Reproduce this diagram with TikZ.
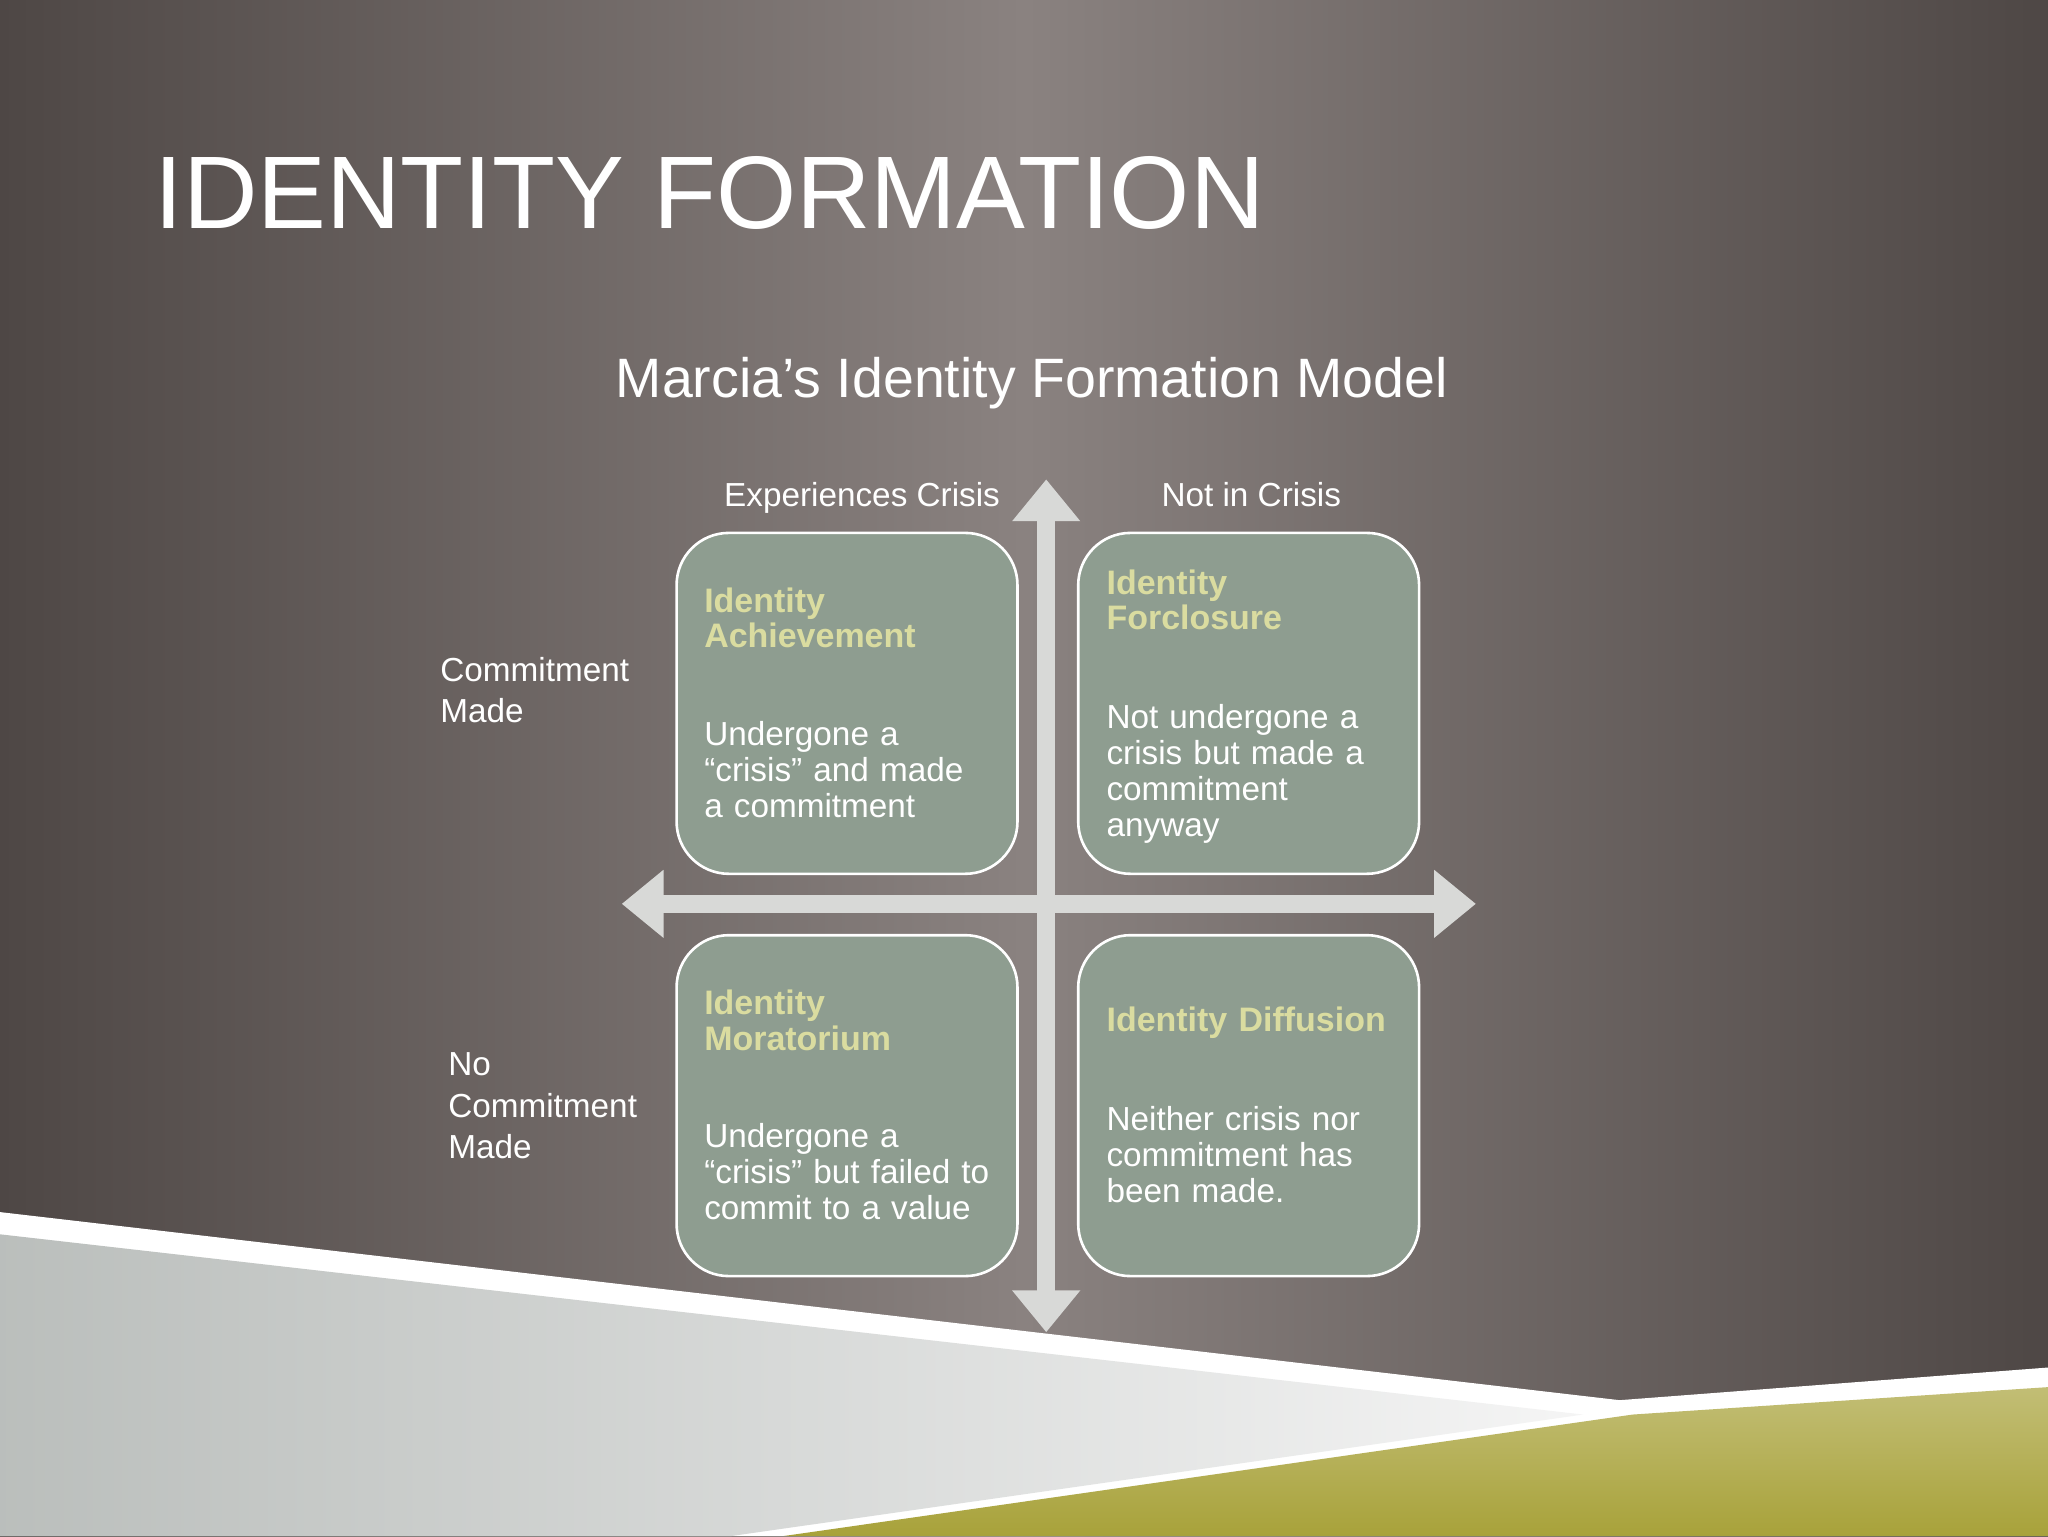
\documentclass[tikz,border=0pt]{standalone}
\usepackage{fontspec}
\setmainfont{Liberation Sans}
\usetikzlibrary{arrows.meta}
\definecolor{bgc}{HTML}{8A8280}
\definecolor{bge}{HTML}{4E4745}
\definecolor{boxc}{HTML}{8E9D90}
\definecolor{ttl}{HTML}{DADCA0}
\definecolor{arr}{HTML}{D8D9D7}
\definecolor{olive}{HTML}{A8A23A}
\definecolor{lgray}{HTML}{C9CECB}
\tikzset{
  quad/.style={draw=white, line width=2pt, fill=boxc, rounded corners=40pt, minimum width=261pt, minimum height=261pt},
  qtitle/.style={anchor=north west, align=left, text width=230pt, font=\fontsize{26}{27}\selectfont\bfseries, text=ttl, inner sep=0pt},
  qbody/.style={anchor=north west, align=left, text width=230pt, font=\fontsize{25.5}{27.5}\selectfont, text=white, inner sep=0pt},
  lab/.style={anchor=north west, align=left, font=\fontsize{25.5}{31.5}\selectfont, text=white, inner sep=0pt},
  axis/.style={draw=arr, line width=14pt, {Triangle[width=50pt,length=32pt]}-{Triangle[width=50pt,length=32pt]}}
}
\begin{document}
\begin{tikzpicture}[x=1pt,y=-1pt]
\useasboundingbox (0,0) rectangle (1568,1176);
\shade[left color=bge, right color=bge, middle color=bgc] (0,0) rectangle (1568,1176);
% bottom shapes
\fill[white] (0,928) -- (1240,1072) -- (1568,1047) -- (1568,1176) -- (0,1176) -- cycle;
\shade[left color=lgray!80!gray, right color=white!92!gray] (0,945) -- (1212,1083) -- (560,1176) -- (0,1176) -- cycle;
\shade[top color=olive!70!white, bottom color=olive] (1568,1062) -- (1568,1176) -- (600,1176) -- (1250,1083) -- cycle;
% title
\node[anchor=base west, text=white, font=\fontsize{79}{86}\selectfont, inner sep=0pt] (title) at (118,175) {IDENTITY FORMATION};
\node[anchor=base, text=white, font=\fontsize{42.5}{46}\selectfont, inner sep=0pt] (sub) at (790,304) {Marcia’s Identity Formation Model};
% boxes
\node[quad] (q1) at (648.5,538.5) {};
\node[quad] (q2) at (956,538.5) {};
\node[quad] (q3) at (648.5,846.5) {};
\node[quad] (q4) at (956,846.5) {};
% axes
\coordinate (vt) at (801,367); \coordinate (vb) at (801,1020);
\coordinate (hl) at (476,692); \coordinate (hr) at (1130,692);
\draw[axis] (vt) -- (vb);
\draw[axis] (hl) -- (hr);
% labels
\node[anchor=base, text=white, font=\fontsize{25.5}{30}\selectfont, inner sep=0pt] (ec) at (660,388) {Experiences Crisis};
\node[anchor=base, text=white, font=\fontsize{25.5}{30}\selectfont, inner sep=0pt] (nc) at (958,388) {Not in Crisis};
\node[lab] (cm) at (337,503) {Commitment\\Made};
\node[lab] (ncm) at (343,806) {No\\Commitment\\Made};
% box texts
\node[qtitle] (t1) at (539,450) {Identity\\Achievement};
\node[qbody] (b1) at (539,552) {Undergone a\\“crisis” and made\\a commitment};
\node[qtitle] (t2) at (847,436) {Identity\\Forclosure};
\node[qbody] (b2) at (847,539) {Not undergone a\\crisis but made a\\commitment\\anyway};
\node[qtitle] (t3) at (539,758) {Identity\\Moratorium};
\node[qbody] (b3) at (539,860) {Undergone a\\“crisis” but failed to\\commit to a value};
\node[qtitle] (t4) at (847,771) {Identity Diffusion};
\node[qbody] (b4) at (847,847) {Neither crisis nor\\commitment has\\been made.};
\end{tikzpicture}
\end{document}
